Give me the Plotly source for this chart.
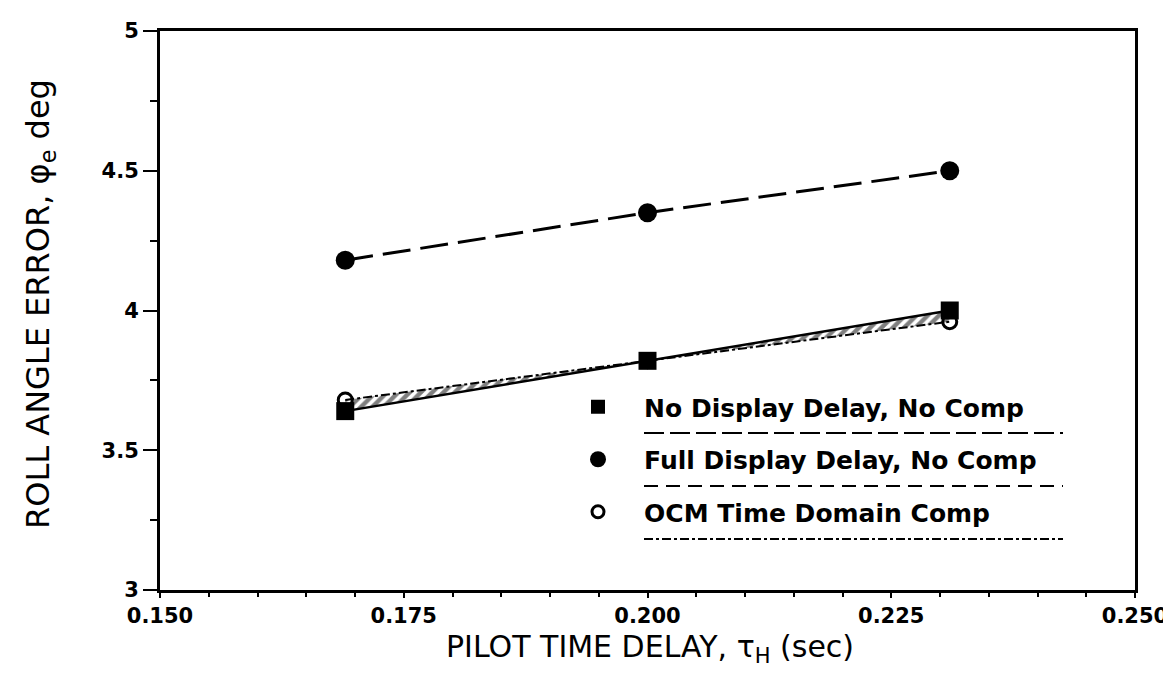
import plotly.graph_objects as go

# ---- data ----
delay = [0.169, 0.200, 0.231]
no_display_delay = [3.64, 3.82, 4.00]
full_display_delay = [4.18, 4.35, 4.50]
ocm_time_domain = [3.68, 3.82, 3.96]

series_names = ["No Display Delay, No Comp",
                "Full Display Delay, No Comp",
                "OCM Time Domain Comp"]

x_ticks = [0.150, 0.175, 0.200, 0.225, 0.250]
x_ticklabels = ["0.150", "0.175", "0.200", "0.225", "0.250"]
y_ticks = [3, 3.5, 4, 4.5, 5]
y_ticklabels = ["3", "3.5", "4", "4.5", "5"]

x_title = "PILOT TIME DELAY, τ<sub>H</sub> (sec)"
y_title = "ROLL ANGLE ERROR, φ<sub>e</sub> deg"

FONT = "DejaVu Sans"
NB = "\u00a0"

fig = go.Figure()

# OCM line (base of hatched band)
fig.add_trace(go.Scatter(
    x=delay, y=ocm_time_domain, mode="lines+markers",
    line=dict(color="black", width=2, dash="dashdot"),
    marker=dict(symbol="circle-open", size=14, color="black", line=dict(width=3)),
    showlegend=False))
# No display delay with hatched fill to OCM
fig.add_trace(go.Scatter(
    x=delay, y=no_display_delay, mode="lines+markers",
    line=dict(color="black", width=2.5),
    fill="tonexty", fillcolor="rgba(0,0,0,0)",
    fillpattern=dict(shape="/", size=8, solidity=0.55, fgcolor="black",
                     bgcolor="white", fillmode="overlay"),
    marker=dict(symbol="square", size=18, color="black"),
    showlegend=False))
# Full display delay
fig.add_trace(go.Scatter(
    x=delay, y=full_display_delay, mode="lines+markers",
    line=dict(color="black", width=3, dash="28px,10px"),
    marker=dict(symbol="circle", size=19, color="black"),
    showlegend=False))

# legend entries (markers only)
legend_markers = [
    dict(symbol="square", size=14, color="black"),
    dict(symbol="circle", size=17, color="black"),
    dict(symbol="circle-open", size=12, color="black", line=dict(width=3)),
]
for i, (name, mk) in enumerate(zip(series_names, legend_markers)):
    fig.add_trace(go.Scatter(
        x=[None], y=[None], mode="markers", marker=mk,
        name=NB * 3 + name, legendgroup=f"g{i}", showlegend=True))

# underline samples under legend text
L, R = 152, 1127
T, B = 23, 582
def px(xp):
    return (xp - L) / (R - L)
def py(yp):
    return (B - yp) / (B - T)

for yline, dash in [(425, "20px,6px"), (478, "14px,8px"), (531, "dashdot")]:
    fig.add_shape(type="line", xref="paper", yref="paper",
                  x0=px(636), x1=px(1055), y0=py(yline), y1=py(yline),
                  line=dict(color="black", width=2, dash=dash))

# axis titles as annotations for precise placement
fig.add_annotation(text=x_title, xref="paper", yref="paper",
                   x=px(642), y=py(640), xanchor="center", yanchor="middle",
                   showarrow=False, font=dict(family=FONT, size=30, color="black"))
fig.add_annotation(text=y_title, xref="paper", yref="paper",
                   x=px(32), y=py(296), xanchor="center", yanchor="middle",
                   textangle=-90, showarrow=False,
                   font=dict(family=FONT, size=32, color="black"))

fig.update_layout(
    width=1171, height=676,
    margin=dict(l=L, r=1171 - R, t=T, b=676 - B, autoexpand=False),
    paper_bgcolor="white", plot_bgcolor="white",
    font=dict(family=FONT, color="black"),
    legend=dict(x=px(570), y=py(376), xanchor="left", yanchor="top",
                font=dict(family=FONT, size=25, color="black", weight="bold"),
                bgcolor="rgba(0,0,0,0)", traceorder="grouped",
                tracegroupgap=17, itemsizing="trace"),
)

fig.update_xaxes(
    range=[0.150, 0.250], tickvals=x_ticks, ticktext=x_ticklabels,
    showgrid=False, zeroline=False,
    showline=True, linecolor="black", linewidth=3, mirror=True,
    ticks="outside", ticklen=5, tickwidth=2, tickcolor="black",
    minor=dict(dtick=0.005, ticks="outside", ticklen=4, tickwidth=2, tickcolor="black"),
    tickfont=dict(family=FONT, size=21, color="black", weight="bold"),
)
fig.update_yaxes(
    range=[3, 5], tickvals=y_ticks, ticktext=y_ticklabels,
    showgrid=False, zeroline=False,
    showline=True, linecolor="black", linewidth=3, mirror=True,
    ticks="outside", ticklen=14, tickwidth=2, tickcolor="black",
    minor=dict(dtick=0.25, ticks="outside", ticklen=7, tickwidth=2, tickcolor="black"),
    tickfont=dict(family=FONT, size=21, color="black", weight="bold"),
)

fig.write_html("out.html")
